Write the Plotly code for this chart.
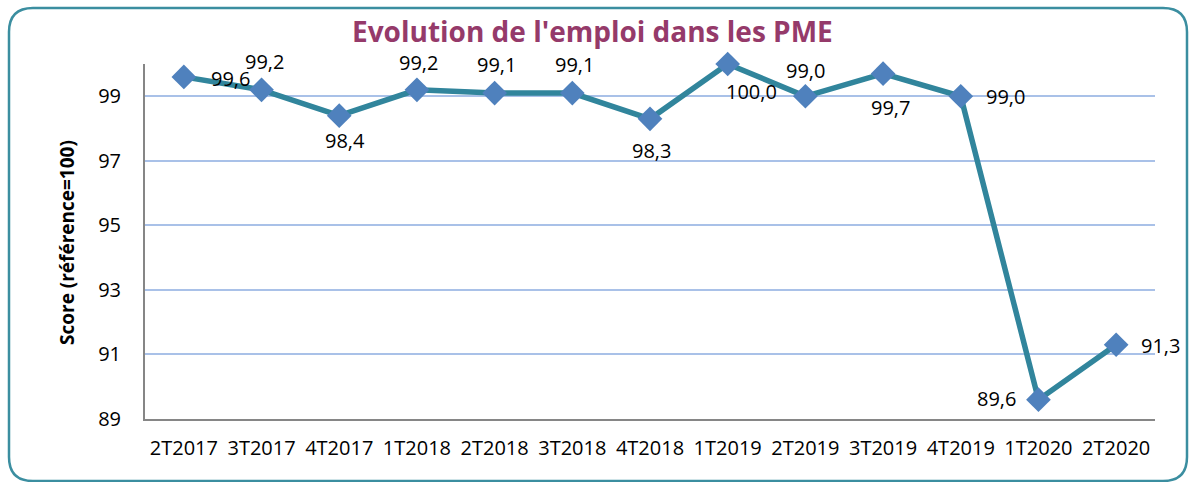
import plotly.graph_objects as go

categories = ["2T2017", "3T2017", "4T2017", "1T2018", "2T2018", "3T2018", "4T2018",
              "1T2019", "2T2019", "3T2019", "4T2019", "1T2020", "2T2020"]
scores = [99.6, 99.2, 98.4, 99.2, 99.1, 99.1, 98.3, 100.0, 99.0, 99.7, 99.0, 89.6, 91.3]
# label offsets (pixels) relative to each marker: (dx, dy up)
label_dx = [47, 3, 6, 2, 2, 2, 1, 24, 0, 7, 45, -42, 44]
label_dy = [-2, 28, -25, 27, 29, 29, -32, -27, 26, -34, 0, 1, -1]
y_ticks = [89, 91, 93, 95, 97, 99]

W, H = 1191, 482
L, R, T, B = 145, 36, 64, 63
PW, PH = W - L - R, H - T - B

def px(x):
    return (x - L) / PW

def py(y):
    return (H - B - y) / PH

labels = [f"{v:.1f}".replace(".", ",") for v in scores]

fig = go.Figure()
fig.add_trace(go.Scatter(
    x=categories, y=scores, mode="lines+markers",
    line=dict(color="#31859C", width=5.5),
    marker=dict(symbol="diamond", size=19, color="#4F81BD"),
    cliponaxis=False, showlegend=False,
))

for c, v, t, dx, dy in zip(categories, scores, labels, label_dx, label_dy):
    fig.add_annotation(x=c, y=v, xref="x", yref="y", text=t, showarrow=False,
                       xshift=dx, yshift=dy, xanchor="center", yanchor="middle",
                       borderpad=0,
                       font=dict(family="Open Sans", size=20, color="#000000"))

# rounded border
x0, x1, y0, y1, r = 9, 1187, 8, 481, 24
def P(x, y):
    return f"{px(x):.5f},{py(y):.5f}"
path = (f"M {P(x0 + r, y0)} L {P(x1 - r, y0)} Q {P(x1, y0)} {P(x1, y0 + r)} "
        f"L {P(x1, y1 - r)} Q {P(x1, y1)} {P(x1 - r, y1)} "
        f"L {P(x0 + r, y1)} Q {P(x0, y1)} {P(x0, y1 - r)} "
        f"L {P(x0, y0 + r)} Q {P(x0, y0)} {P(x0 + r, y0)} Z")
fig.add_shape(type="path", path=path, xref="paper", yref="paper",
              line=dict(color="#3B8EA0", width=2.5), layer="below")

fig.add_annotation(text="<b>Evolution de l'emploi dans les PME</b>", xref="paper", yref="paper",
                   x=px(592), y=py(31), showarrow=False, xanchor="center", yanchor="middle",
                   borderpad=0,
                   font=dict(family="Open Sans", size=28, color="#953A6A"))
fig.add_annotation(text="<b>Score (référence=100)</b>", xref="paper", yref="paper",
                   x=px(67), y=py(243), showarrow=False, textangle=-90,
                   xanchor="center", yanchor="middle",
                   font=dict(family="Open Sans", size=19, color="#000000"))

fig.update_layout(
    width=W, height=H, margin=dict(l=L, r=R, t=T, b=B),
    paper_bgcolor="white", plot_bgcolor="white",
    font=dict(family="Open Sans", size=20, color="#000000"),
    xaxis=dict(type="category", range=[-0.5, 12.5], showgrid=False,
               showline=True, linecolor="#868686", linewidth=2,
               ticks="outside", ticklen=10, tickcolor="rgba(0,0,0,0)",
               tickfont=dict(size=20), fixedrange=True),
    yaxis=dict(range=[89, 100], tickvals=y_ticks, showgrid=True,
               gridcolor="#A9C1E8", gridwidth=1.5, zeroline=False,
               showline=True, linecolor="#868686", linewidth=2,
               ticks="outside", ticklen=18, tickcolor="rgba(0,0,0,0)",
               tickfont=dict(size=20), fixedrange=True),
)

fig.write_html("out.html", config={"displayModeBar": False},
               post_script="document.body.style.margin='0';")
